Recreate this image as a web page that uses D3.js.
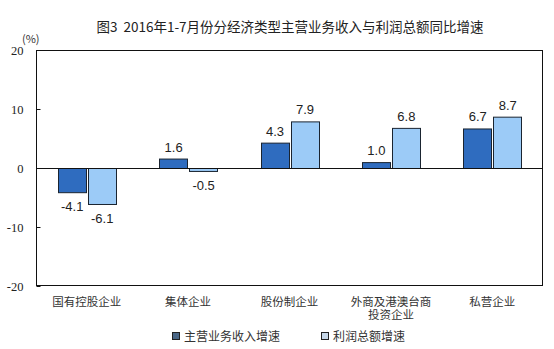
<!DOCTYPE html>
<html>
<head>
<meta charset="utf-8">
<script src="https://cdn.jsdelivr.net/npm/d3@7"></script>
<style>
  html, body { margin: 0; padding: 0; background: #fff; }
  svg { display: block; }
</style>
</head>
<body>
<svg id="chart" width="554" height="349"></svg>
<script>
// Enterprise types (two-line labels split on "\n")
const categories = ["国有控股企业", "集体企业", "股份制企业", "外商及港澳台商\n投资企业", "私营企业"];
// Year-on-year growth, %
const revenueGrowth = [-4.1, 1.6, 4.3, 1.0, 6.7];
const profitGrowth = [-6.1, -0.5, 7.9, 6.8, 8.7];
const seriesNames = ["主营业务收入增速", "利润总额增速"];
const yTicks = [-20, -10, 0, 10, 20];
const titleText = "图3\u00a0\u00a02016年1-7月份分经济类型主营业务收入与利润总额同比增速";

const colors = ["#2f6cbf", "#9ccbf7"];
const legendColors = ["#4a6787", "#c6d7e8"];

// Plain hyphen for negatives
const fmt1 = v => d3.format(".1f")(v).replace("\u2212", "-");
const fmt0 = v => d3.format("d")(v).replace("\u2212", "-");

const svg = d3.select("#chart");
const plot = { left: 36, right: 543, top: 50, bottom: 286 };

const x = d3.scaleBand()
  .domain(categories)
  .range([plot.left, plot.right])
  .paddingInner(0).paddingOuter(0);

const y = d3.scaleLinear().domain([-20, 20]).range([plot.bottom, plot.top]);

const barW = 28, barGap = 2;

// Title
svg.append("text")
  .attr("x", 290).attr("y", 32)
  .attr("text-anchor", "middle")
  .attr("font-family", "'Noto Sans CJK SC', sans-serif")
  .attr("font-size", 13.5)
  .attr("fill", "#222")
  .text(titleText);

// Unit label
svg.append("text")
  .attr("x", 22).attr("y", 43)
  .attr("font-family", "'Noto Sans CJK SC', sans-serif")
  .attr("font-size", 11)
  .attr("fill", "#333")
  .text("(%)");

// Plot frame
svg.append("rect")
  .attr("x", plot.left + 0.5).attr("y", plot.top + 0.5)
  .attr("width", plot.right - plot.left - 1).attr("height", plot.bottom - plot.top - 1)
  .attr("fill", "none").attr("stroke", "#111").attr("stroke-width", 1);

// Y axis: inward ticks, serif labels
const yAxis = d3.axisLeft(y).tickValues(yTicks).tickSize(-4).tickPadding(13).tickFormat(fmt0);
const yg = svg.append("g").attr("transform", `translate(${plot.left + 0.5},0)`).call(yAxis);
yg.select(".domain").remove();
yg.selectAll(".tick line").attr("stroke", "#111");
yg.selectAll(".tick text")
  .attr("font-family", "'Liberation Serif', 'Times New Roman', serif")
  .attr("font-size", 12.5)
  .attr("fill", "#222");

// Bars
const series = [revenueGrowth, profitGrowth];
series.forEach((vals, si) => {
  const g = svg.append("g");
  const xPos = (c) => x(c) + x.bandwidth() / 2 + (si === 0 ? -barGap / 2 - barW : barGap / 2);
  g.selectAll("rect")
    .data(categories.map((c, i) => ({ c, v: vals[i] })))
    .join("rect")
    .attr("x", d => Math.round(xPos(d.c)) + 0.5)
    .attr("y", d => Math.min(y(d.v), y(0)) + 0.5)
    .attr("width", barW)
    .attr("height", d => Math.max(Math.abs(y(d.v) - y(0)), 1))
    .attr("fill", colors[si])
    .attr("stroke", "#1a2430")
    .attr("stroke-width", 1);

  g.selectAll("text")
    .data(categories.map((c, i) => ({ c, v: vals[i] })))
    .join("text")
    .attr("x", d => xPos(d.c) + barW / 2 + 0.5)
    .attr("y", d => d.v >= 0 ? y(d.v) - 7 : y(d.v) + 19)
    .attr("text-anchor", "middle")
    .attr("font-family", "'Liberation Sans', Arial, sans-serif")
    .attr("font-size", 13)
    .attr("fill", "#222")
    .text(d => fmt1(d.v));
});

// Zero line
svg.append("line")
  .attr("x1", plot.left).attr("x2", plot.right)
  .attr("y1", Math.round(y(0)) + 0.5).attr("y2", Math.round(y(0)) + 0.5)
  .attr("stroke", "#111").attr("stroke-width", 1);

// Category labels
const catG = svg.append("g");
categories.forEach(c => {
  const lines = c.split("\n");
  lines.forEach((ln, i) => {
    catG.append("text")
      .attr("x", x(c) + x.bandwidth() / 2)
      .attr("y", 306 + i * 13)
      .attr("text-anchor", "middle")
      .attr("font-family", "'Noto Sans CJK SC', sans-serif")
      .attr("font-size", 11.5)
      .attr("fill", "#333")
      .text(ln);
  });
});

// Legend
const legendItems = [{ x: 172 }, { x: 321 }];
legendItems.forEach((it, i) => {
  svg.append("rect")
    .attr("x", it.x + 0.5).attr("y", 332.5)
    .attr("width", 7).attr("height", 7)
    .attr("fill", legendColors[i]).attr("stroke", "#222").attr("stroke-width", 1);
  svg.append("text")
    .attr("x", it.x + 12).attr("y", 341)
    .attr("font-family", "'Noto Sans CJK SC', sans-serif")
    .attr("font-size", 12)
    .attr("fill", "#333")
    .text(seriesNames[i]);
});
</script>
</body>
</html>
